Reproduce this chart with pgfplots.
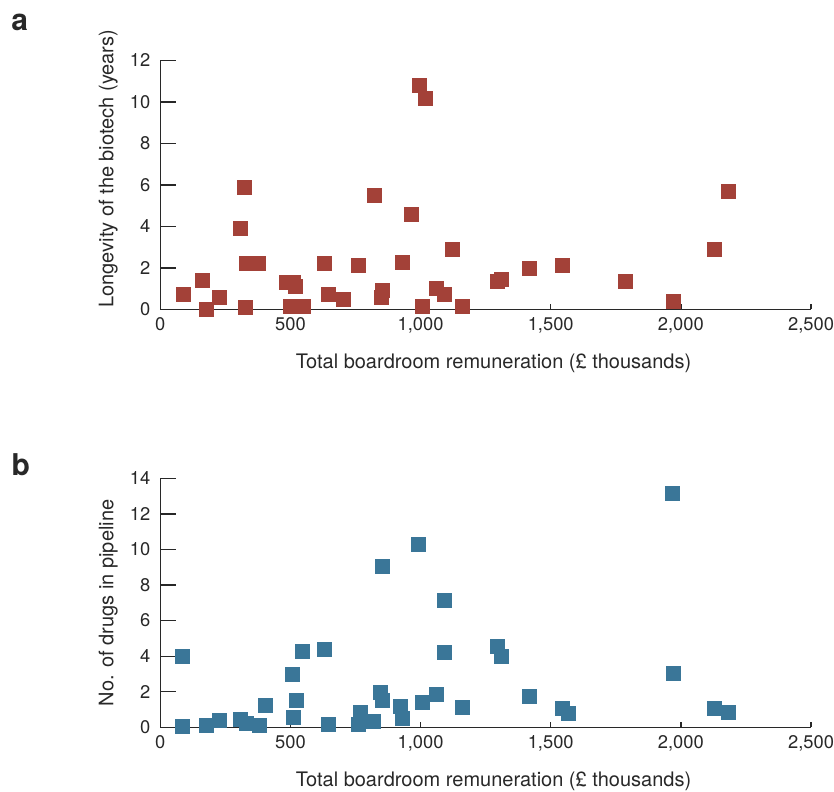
\documentclass[border=0pt]{standalone}
\usepackage{pgfplots}
\pgfplotsset{compat=1.18}
\usepackage{fontspec}
\setmainfont{TeX Gyre Heros}
\definecolor{rustred}{RGB}{163,65,56}
\definecolor{steelblue}{RGB}{58,118,152}
\definecolor{ink}{RGB}{40,40,40}

\pgfplotsset{
  remun/.style={
    scale only axis, width=390.4pt, height=149.4pt,
    xmin=0, xmax=2500, ymin=0,
    axis x line*=bottom, axis y line*=left,
    axis line style={ink, line width=0.8pt, -},
    tick align=inside,
    major tick length=9.6pt,
    xtick={0,500,1000,1500,2000,2500},
    xtick style={ink, line width=0.8pt, /pgfplots/major tick length=3.5pt},
    ytick style={ink, line width=0.8pt},
    tick label style={font=\fontsize{11}{13}\selectfont, text=ink},
    xticklabel style={yshift=-1.3pt},
    yticklabel style={xshift=-2.5pt},
    /pgf/number format/assume math mode=true,
    /pgf/number format/1000 sep={,},
    label style={font=\fontsize{12}{14}\selectfont, text=ink},
    xlabel={Total boardroom remuneration (£ thousands)},
    xlabel style={at={(axis description cs:0.512,-0.237)}, anchor=base},
    clip=false,
  },
  sq/.style={only marks, mark=square*, mark size=4.2pt, mark options={draw=#1, fill=#1}},
}

\begin{document}
\begin{tikzpicture}
% panel a
\begin{axis}[remun, at={(0,0)}, anchor=south west,
  ymax=12, ytick={0,2,...,12},
  ylabel={Longevity of the biotech (years)},
  ylabel style={at={(axis description cs:-0.0722,0.565)}, anchor=base, rotate=0}]
\addplot[sq=rustred] coordinates {
 (87,0.7) (160,1.4) (175,0) (225,0.6) (306,3.9) (321,5.9) (325,0.1)
 (329,2.2) (378,2.2) (483,1.3) (510,1.3) (520,1.1) (500,0.16) (525,0.16) (548,0.16)
 (632,2.2) (644,0.7) (705,0.5) (759,2.1) (821,5.5) (854,0.93) (850,0.56)
 (931,2.28) (963,4.6) (995,10.8) (1017,10.18) (1005,0.16) (1059,1.0) (1093,0.7)
 (1120,2.9) (1159,0.16) (1293,1.36) (1312,1.46) (1416,2.0) (1543,2.1)
 (1788,1.36) (1972,0.4) (2130,2.9) (2184,5.7)
};
\end{axis}
% panel b
\begin{axis}[remun, at={(0,-250.8pt)}, anchor=south west,
  ymax=14, ytick={0,2,...,14},
  ylabel={No. of drugs in pipeline},
  ylabel style={at={(axis description cs:-0.0722,0.5)}, anchor=base, rotate=0}]
\addplot[sq=steelblue] coordinates {
 (86,4.0) (86,0.03) (175,0.13) (225,0.41) (306,0.45) (329,0.22) (379,0.09)
 (402,1.21) (506,3.0) (512,0.58) (521,1.5) (547,4.3) (632,4.37) (644,0.15)
 (759,0.17) (767,0.84) (819,0.35) (854,9.08) (847,1.97) (854,1.53) (923,1.2)
 (931,0.48) (993,10.3) (1005,1.42) (1059,1.87) (1090,7.16) (1093,4.23)
 (1159,1.14) (1293,4.57) (1312,4.0) (1416,1.76) (1543,1.08) (1566,0.8)
 (1968,13.17) (1972,3.05) (2130,1.08) (2184,0.86)
};
\end{axis}
\node[anchor=base west, inner sep=0, font=\fontsize{18}{20}\selectfont\bfseries, text=ink] at (-89.6pt,167.2pt) {a};
\node[anchor=base west, inner sep=0, font=\fontsize{18}{20}\selectfont\bfseries, text=ink] at (-89.4pt,-99.4pt) {b};
\pgfresetboundingbox
\path (-96.2pt,-289pt) rectangle (404.2pt,185.6pt);
\end{tikzpicture}
\end{document}
